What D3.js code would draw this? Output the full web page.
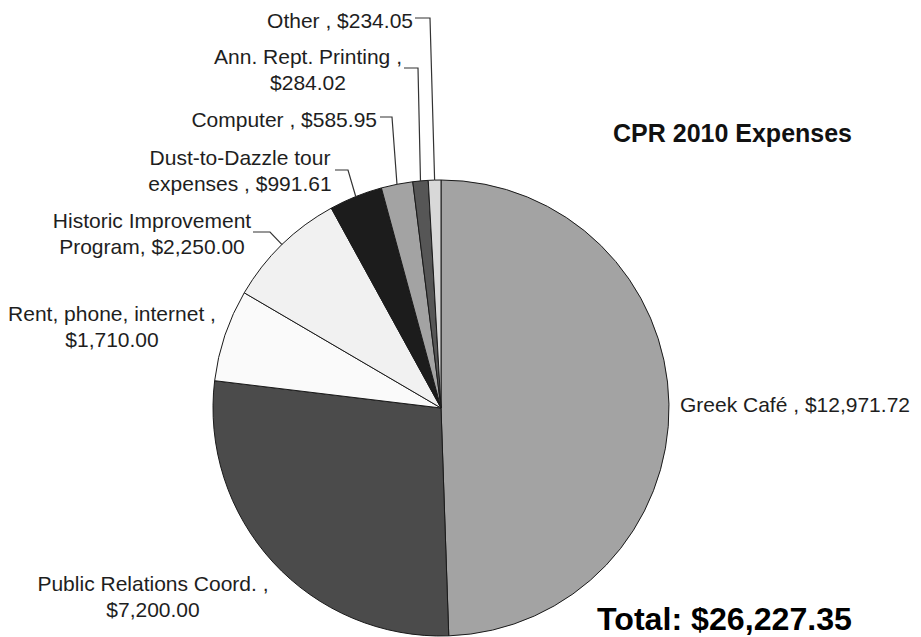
<!DOCTYPE html>
<html>
<head>
<meta charset="utf-8">
<script src="https://cdn.jsdelivr.net/npm/d3@7"></script>
<style>
  html, body { margin: 0; padding: 0; background: #fff; }
  svg { display: block; }
</style>
</head>
<body>
<svg id="chart" width="921" height="637"></svg>
<script>
// ---- data ----
const categories = ["Greek Café", "Public Relations Coord.", "Rent, phone, internet", "Historic Improvement Program",
  "Dust-to-Dazzle tour expenses", "Computer", "Ann. Rept. Printing", "Other"];
const values = [12971.72, 7200.00, 1710.00, 2250.00, 991.61, 585.95, 284.02, 234.05];
const labelTemplates = [
  ["Greek Café , {v}"],
  ["Public Relations Coord. ,", "{v}"],
  ["Rent, phone, internet ,", "{v}"],
  ["Historic Improvement", "Program, {v}"],
  ["Dust-to-Dazzle tour", "expenses , {v}"],
  ["Computer , {v}"],
  ["Ann. Rept. Printing ,", "{v}"],
  ["Other , {v}"]
];
const titleText = "CPR 2010 Expenses";
const totalLabel = "Total: ";

// ---- styles / layout ----
const sliceColors = ["#a3a3a3", "#4b4b4b", "#fafafa", "#f1f1f1", "#1c1c1c", "#a3a3a3", "#565656", "#d8d8d8"];
const cx = 441, cy = 408, R = 228;
const fontSize = 21, lineH = 26;
// label anchor: x, center y of first line, text-anchor; leader: [startX, startY, elbowX] or null
const labelLayout = [
  { x: 680, y: 404, anchor: "start", leader: null },
  { x: 153, y: 583, anchor: "middle", leader: null },
  { x: 112, y: 313, anchor: "middle", leader: null },
  { x: 152, y: 220, anchor: "middle", leader: [253, 232, 270] },
  { x: 240, y: 157, anchor: "middle", leader: [335, 170, 348] },
  { x: 377, y: 119, anchor: "end", leader: [380, 117, 392] },
  { x: 308, y: 56, anchor: "middle", leader: [404, 68, 418] },
  { x: 413, y: 20, anchor: "end", leader: [415, 18, 430] }
];

const fmt = d3.format("$,.2f");
const svg = d3.select("#chart");
const font = "'Liberation Sans', Arial, Helvetica, sans-serif";

const pie = d3.pie().sort(null).value(d => d).startAngle(0).endAngle(2 * Math.PI);
const arcs = pie(values);
const arc = d3.arc().innerRadius(0).outerRadius(R);
const edgeArc = d3.arc().innerRadius(R).outerRadius(R);

const g = svg.append("g").attr("transform", `translate(${cx},${cy})`);
g.selectAll("path.slice")
  .data(arcs)
  .join("path")
  .attr("class", "slice")
  .attr("d", arc)
  .attr("fill", (d, i) => sliceColors[i])
  .attr("stroke", "#1a1a1a")
  .attr("stroke-width", 1)
  .attr("stroke-linejoin", "round");

// leader lines
arcs.forEach((d, i) => {
  const L = labelLayout[i].leader;
  if (!L) return;
  const [ex, ey] = edgeArc.centroid(d);
  svg.append("polyline")
    .attr("points", `${L[0]},${L[1]} ${L[2]},${L[1]} ${cx + ex},${cy + ey}`)
    .attr("fill", "none")
    .attr("stroke", "#333")
    .attr("stroke-width", 1.2);
});

// labels
labelTemplates.forEach((lines, i) => {
  const lay = labelLayout[i];
  const t = svg.append("text")
    .attr("font-family", font)
    .attr("font-size", fontSize)
    .attr("fill", "#1e1e1e")
    .attr("text-anchor", lay.anchor);
  lines.forEach((ln, k) => {
    t.append("tspan")
      .attr("x", lay.x)
      .attr("y", lay.y + k * lineH + 7.5)
      .text(ln.replace("{v}", fmt(values[i])));
  });
});

// title
svg.append("text")
  .attr("x", 613).attr("y", 142)
  .attr("font-family", font)
  .attr("font-weight", "bold")
  .attr("font-size", 25)
  .attr("fill", "#111")
  .text(titleText);

// total
const total = d3.sum(values);
svg.append("text")
  .attr("x", 597).attr("y", 630)
  .attr("font-family", font)
  .attr("font-weight", "bold")
  .attr("font-size", 31)
  .attr("textLength", 255)
  .attr("lengthAdjust", "spacingAndGlyphs")
  .attr("fill", "#000")
  .text(totalLabel + fmt(total));
</script>
</body>
</html>
